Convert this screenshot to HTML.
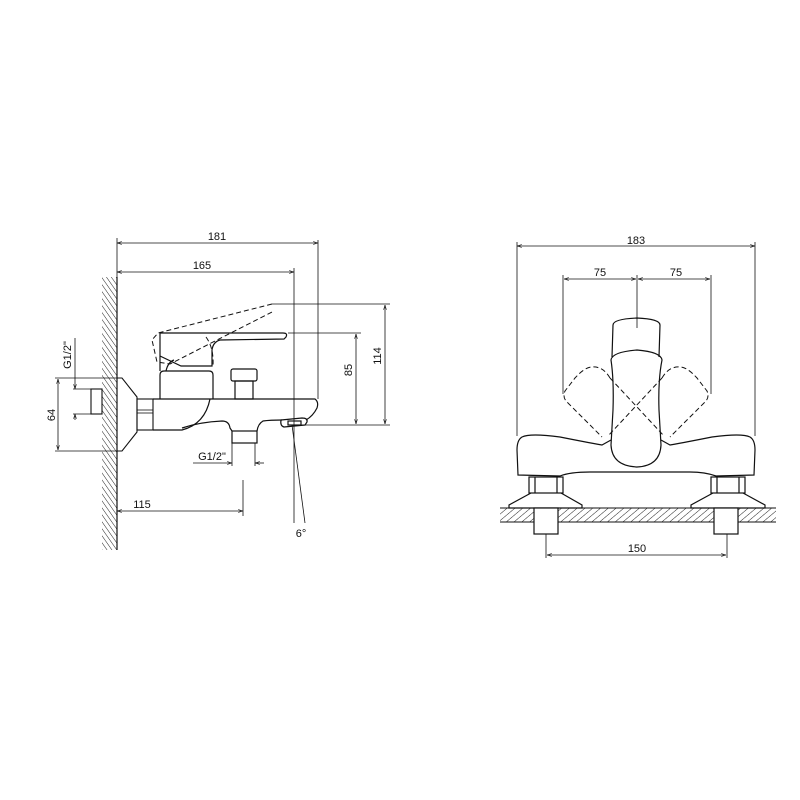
<!DOCTYPE html>
<html><head><meta charset="utf-8"><style>
html,body{margin:0;padding:0;background:#fff;width:800px;height:800px;overflow:hidden}
svg{display:block}
text{font-family:"Liberation Sans",sans-serif;font-size:11px;fill:#111}
</style></head><body>
<svg width="800" height="800" viewBox="0 0 800 800" xmlns="http://www.w3.org/2000/svg">
<defs>
<pattern id="hw" width="4" height="4" patternUnits="userSpaceOnUse" patternTransform="rotate(-35)">
<line x1="0" y1="0" x2="0" y2="4" stroke="#222" stroke-width="1"/>
</pattern>
<pattern id="hc" width="5" height="5" patternUnits="userSpaceOnUse" patternTransform="rotate(50)">
<line x1="0" y1="0" x2="0" y2="5" stroke="#222" stroke-width="1"/>
</pattern>
<marker id="a" viewBox="0 0 10 10" refX="10" refY="5" markerWidth="6" markerHeight="6" orient="auto-start-reverse"><path d="M0,2 L10,5 L0,8" fill="none" stroke="#111" stroke-width="1.2"/></marker>
</defs>
<g fill="none" stroke="#111" stroke-width="0.8">
<!-- LEFT VIEW -->
<rect x="102" y="277" width="15" height="273" fill="url(#hw)" stroke="none"/>
<line x1="117" y1="277" x2="117" y2="550" stroke-width="1.2"/>
<line x1="117" y1="238" x2="117" y2="277"/>
<!-- dims -->
<line x1="117" y1="243" x2="318" y2="243" marker-start="url(#a)" marker-end="url(#a)"/>
<line x1="318" y1="240" x2="318" y2="399"/>
<line x1="117" y1="272" x2="294" y2="272" marker-start="url(#a)" marker-end="url(#a)"/>
<line x1="294" y1="268" x2="294" y2="523"/>
<line x1="272" y1="304" x2="390" y2="304"/>
<line x1="288" y1="333" x2="361" y2="333"/>
<line x1="300" y1="425" x2="390" y2="425"/>
<line x1="385" y1="305" x2="385" y2="424" marker-start="url(#a)" marker-end="url(#a)"/>
<line x1="356" y1="334" x2="356" y2="424" marker-start="url(#a)" marker-end="url(#a)"/>
<line x1="292" y1="425" x2="305" y2="523"/>
<line x1="117" y1="511" x2="243" y2="511" marker-start="url(#a)" marker-end="url(#a)"/>
<line x1="243" y1="480" x2="243" y2="516"/>
<line x1="193" y1="463" x2="232" y2="463" marker-end="url(#a)"/>
<line x1="255" y1="463" x2="264" y2="463" marker-start="url(#a)"/>
<line x1="232" y1="443" x2="232" y2="466"/>
<line x1="255" y1="443" x2="255" y2="466"/>
<line x1="55" y1="378" x2="117" y2="378"/>
<line x1="55" y1="451" x2="117" y2="451"/>
<line x1="58" y1="379" x2="58" y2="450" marker-start="url(#a)" marker-end="url(#a)"/>
<line x1="73" y1="389" x2="91" y2="389"/>
<line x1="73" y1="414" x2="91" y2="414"/>
<line x1="75" y1="338" x2="75" y2="389" marker-end="url(#a)"/>
<line x1="75" y1="414" x2="75" y2="420" marker-start="url(#a)"/>
<!-- pipe, flange, nut -->
<rect x="91" y="389" width="11" height="25" stroke-width="1.1"/>
<path d="M117,378 L122,378 L137,397 L137,432 L122,451 L117,451" stroke-width="1.1"/>
<rect x="137" y="399" width="16" height="31" stroke-width="1.1"/>
<line x1="137" y1="410" x2="153" y2="410"/><line x1="137" y1="413" x2="153" y2="413"/>
<!-- body -->
<g stroke-width="1.2">
<path d="M153,399 L315,399 Q319,402 317,408 Q313,416 306,420"/>
<path d="M210,399 Q205,424 182,430 L153,430"/>
<path d="M182,428 Q200,422 222,421 Q229,421 230,428 L232,431"/>
<path d="M257,431 Q258,424 263,421 Q270,420 282,420"/>
<rect x="232" y="431" width="25" height="12"/>
<path d="M281,420 L302,418 Q308,418 307,422 L305,425 L284,427 Q280,426 281,420 Z"/>
<rect x="288" y="421" width="13" height="4"/>
<path d="M160,399 L160,375 Q160,371 164,371 L209,371 Q213,371 213,375 L213,399"/>
<rect x="231" y="369" width="26" height="12" rx="2"/>
<rect x="235" y="381" width="18" height="18"/>
<path d="M160,371 L160,333 L283,333 Q288,333 286,337 L284,339 L220,340 Q213,342 212,350 L212,366 L181,366 L160,356"/>
<path d="M166,371 Q168,362 174,360"/>
</g>
<g stroke-dasharray="5,3" stroke-width="1">
<path d="M272,304 L158,333 L152,340 L157,362 L170,364 L272,312"/>
<path d="M206,337 Q214,348 213,366"/>
</g>
<!-- RIGHT VIEW -->
<line x1="517" y1="246" x2="755" y2="246" marker-start="url(#a)" marker-end="url(#a)"/>
<line x1="517" y1="242" x2="517" y2="436"/>
<line x1="755" y1="242" x2="755" y2="436"/>
<line x1="564" y1="279" x2="636" y2="279" marker-start="url(#a)" marker-end="url(#a)"/>
<line x1="638" y1="279" x2="710" y2="279" marker-start="url(#a)" marker-end="url(#a)"/>
<line x1="563" y1="275" x2="563" y2="394"/>
<line x1="711" y1="275" x2="711" y2="394"/>
<line x1="637" y1="275" x2="637" y2="328"/>
<line x1="546" y1="534" x2="546" y2="558"/>
<line x1="727" y1="534" x2="727" y2="558"/>
<line x1="547" y1="555" x2="726" y2="555" marker-start="url(#a)" marker-end="url(#a)"/>
<g stroke-width="1.2">
<path d="M612,357 L613,325 Q613,319 637,318 Q660,319 660,325 L659,357"/>
<path d="M611,360 Q612,352 637,350 Q661,352 662,360 Q658,380 659,410 L661,445 Q660,466 637,467 Q612,466 611,445 L613,410 Q614,380 611,360 Z"/>
<path d="M611,440 L602,445 Q585,442 560,437 Q530,433 522,437 Q517,440 517,450 L518,475 L560,476 Q570,472 590,472 L690,472 Q705,472 716,476 L754,475 L755,450 Q755,440 750,437 Q742,433 712,437 Q687,442 670,445 L661,440"/>
<rect x="529" y="477" width="34" height="16"/>
<line x1="535" y1="477" x2="535" y2="493"/><line x1="557" y1="477" x2="557" y2="493"/>
<path d="M531,493 L509,505 L509,508 L582,508 L582,505 L561,493"/>
<rect x="711" y="477" width="34" height="16"/>
<line x1="717" y1="477" x2="717" y2="493"/><line x1="739" y1="477" x2="739" y2="493"/>
<path d="M713,493 L691,505 L691,508 L765,508 L765,505 L743,493"/>
</g>
<rect x="500" y="508" width="276" height="14" fill="url(#hc)" stroke="none"/>
<line x1="500" y1="508" x2="776" y2="508" stroke-width="1.1"/>
<line x1="500" y1="522" x2="776" y2="522" stroke-width="1.1"/>
<rect x="534" y="508" width="24" height="26" fill="#fff" stroke-width="1.2"/>
<rect x="714" y="508" width="24" height="26" fill="#fff" stroke-width="1.2"/>
<g stroke-dasharray="5,3" stroke-width="1">
<path d="M610,378 Q603,366 592,367 Q585,367 575,378 L565,391 Q562,398 568,403 L602,437"/>
<path d="M610,378 L664,436"/>
<path d="M662,378 Q669,366 680,367 Q687,367 697,378 L707,391 Q710,398 704,403 L670,437"/>
<path d="M662,378 L608,436"/>
</g>
</g>
<g>
<text x="217" y="240" text-anchor="middle">181</text>
<text x="202" y="269" text-anchor="middle">165</text>
<text x="142" y="508" text-anchor="middle">115</text>
<text x="212" y="460" text-anchor="middle">G1/2"</text>
<text x="301" y="537" text-anchor="middle">6°</text>
<text transform="translate(381,356) rotate(-90)" text-anchor="middle">114</text>
<text transform="translate(352,370) rotate(-90)" text-anchor="middle">85</text>
<text transform="translate(55,415) rotate(-90)" text-anchor="middle">64</text>
<text transform="translate(71,355) rotate(-90)" text-anchor="middle">G1/2"</text>
<text x="636" y="244" text-anchor="middle">183</text>
<text x="600" y="276" text-anchor="middle">75</text>
<text x="676" y="276" text-anchor="middle">75</text>
<text x="637" y="552" text-anchor="middle">150</text>
</g>
</svg>
</body></html>
